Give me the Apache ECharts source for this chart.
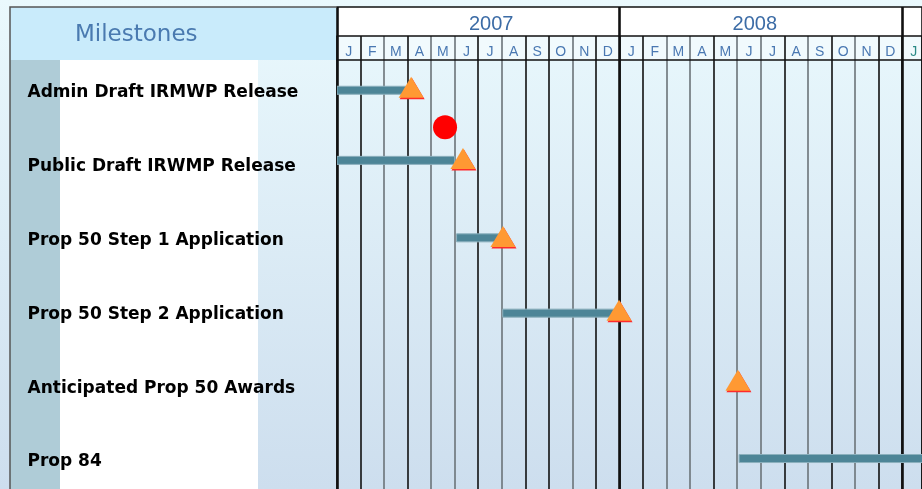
<!DOCTYPE html>
<html>
<head>
<meta charset="utf-8">
<script src="https://cdn.jsdelivr.net/npm/echarts@6/dist/echarts.min.js"></script>
<style>html,body{margin:0;padding:0;background:#e8f7fb;}#c{width:922px;height:489px;}</style>
</head>
<body>
<div id="c"></div>
<script>
// ---- data ----
const months = ['J','F','M','A','M','J','J','A','S','O','N','D','J','F','M','A','M','J','J','A','S','O','N','D','J'];
const years = ['2007','2008'];
const yearLabelPos = [6.55, 17.75];
const milestoneNames = ['Admin Draft IRMWP Release','Public Draft IRWMP Release','Prop 50 Step 1 Application','Prop 50 Step 2 Application','Anticipated Prop 50 Awards','Prop 84'];
const labelRows = [0, 1, 2, 3, 4, 5];
// bars: month index from Jan 2007 (0)
const barStart = [0, 0, 5.08, 7.04, 17.08];
const barEnd   = [2.95, 5.0, 6.95, 11.8, 25.5];
const barRow   = [-0.01, 0.94, 1.99, 3.01, 4.98];
// triangle milestones
const triMonth = [3.15, 5.35, 7.05, 11.98, 17.03];
const triRow   = [-0.05, 0.915, 1.97, 2.97, 3.92];
// red dot
const dotMonth = [4.59];
const dotRow   = [0.49];

const X_MIN = 0, X_MAX = 24.85, Y_MIN = -0.42, Y_MAX = 5.393;
const BLK = '#111', GRY = '#6b7378';
const splitColors = [BLK,BLK,GRY,BLK,GRY,GRY,BLK,GRY,BLK,BLK,GRY,BLK,BLK,BLK,GRY,GRY,BLK,GRY,GRY,BLK,GRY,BLK,GRY,BLK,BLK,BLK];

const chart = echarts.init(document.getElementById('c'), null, {renderer:'canvas'});

function monthAxis(grid) {
  return {type:'value', gridIndex:grid, min:X_MIN, max:X_MAX, interval:1, position:'top',
    axisLine:{show:true, onZero:false, lineStyle:{color:'#111', width:1.5}}, axisTick:{show:false}, axisLabel:{show:false},
    splitLine:{show:true, lineStyle:{color:splitColors, width:1.6}}};
}
function yearAxis(grid, pos, line) {
  return {type:'value', gridIndex:grid, min:X_MIN, max:X_MAX, interval:12, position:pos,
    axisLine:{show:line, onZero:false, lineStyle:{color:'#111', width:1.5}}, axisTick:{show:false}, axisLabel:{show:false},
    splitLine:{show:true, lineStyle:{color:'#111', width:2.6}}};
}
const hiddenItem = {color:'rgba(0,0,0,0)', opacity:1};

const option = {
  animation:false,
  backgroundColor:'transparent',
  graphic:[
    {type:'rect', z:-100, shape:{x:0,y:0,width:922,height:489},
     style:{fill:new echarts.graphic.LinearGradient(0,0,0,1,[{offset:0,color:'#eaf9fd'},{offset:1,color:'#cddeee'}])}},
    {type:'rect', z:-90, shape:{x:10,y:7,width:327,height:53}, style:{fill:'#c9ebfb'}},
    {type:'rect', z:-90, shape:{x:10,y:60,width:50,height:429}, style:{fill:'#afccd7'}},
    {type:'rect', z:-90, shape:{x:60,y:60,width:198,height:429}, style:{fill:'#ffffff'}},
    {type:'polyline', z:5, shape:{points:[[10,489],[10,7],[337,7]]}, style:{stroke:'#555', lineWidth:1.5, fill:null}}
  ],
  title:{text:'Milestones', left:75, top:24, padding:0,
    textStyle:{fontFamily:'DejaVu Sans', fontSize:23, fontWeight:'normal', color:'#4a7ab0'}},
  grid:[
    {left:337, top:60, width:585, height:429, show:false},
    {left:337, top:36, width:585, height:24, show:true, backgroundColor:'#f1fafd', borderWidth:0},
    {left:337, top:7, width:585, height:29, show:true, backgroundColor:'#ffffff', borderWidth:0},
    {left:10, top:60, width:327, height:429, show:false}
  ],
  xAxis:[
    monthAxis(0), yearAxis(0,'bottom',false),
    monthAxis(1), yearAxis(1,'bottom',false),
    yearAxis(2,'top',true),
    {type:'value', gridIndex:3, min:0, max:1, show:false}
  ],
  yAxis:[
    {type:'value', gridIndex:0, inverse:true, min:Y_MIN, max:Y_MAX, show:false},
    {type:'value', gridIndex:1, min:0, max:1, show:false},
    {type:'value', gridIndex:2, min:0, max:1, show:false},
    {type:'value', gridIndex:3, inverse:true, min:Y_MIN, max:Y_MAX, show:false}
  ],
  series:[
    {type:'custom', xAxisIndex:0, yAxisIndex:0, clip:true, z:3,
     data: barStart.map((s,i)=>[s, barEnd[i], barRow[i]]),
     renderItem:function(params, api){
       const a = api.coord([api.value(0), api.value(2)]);
       const b = api.coord([api.value(1), api.value(2)]);
       return {type:'rect', shape:{x:a[0], y:a[1]-4, width:b[0]-a[0], height:8},
         style:{fill:'#4d8597', stroke:'#8cb0bd', lineWidth:1}};
     }},
    {type:'scatter', xAxisIndex:0, yAxisIndex:0, z:4, symbol:'triangle', symbolSize:[25,21],
     data: triMonth.map((m,i)=>[m, triRow[i]]),
     itemStyle:{color:'#ff9933', shadowColor:'#ff2a2a', shadowOffsetX:1, shadowOffsetY:1.5, shadowBlur:0, opacity:1}},
    {type:'scatter', xAxisIndex:0, yAxisIndex:0, z:4, symbol:'circle', symbolSize:24,
     data: dotMonth.map((m,i)=>[m, dotRow[i]]), itemStyle:{color:'#ff0000', opacity:1}},
    {type:'scatter', xAxisIndex:2, yAxisIndex:1, z:4, symbolSize:1, itemStyle:hiddenItem,
     data: months.map((m,i)=>({value:[i+0.5, 0.5], label:{color: i===24 ? '#2a8a86' : '#4a78b2'}})),
     label:{show:true, position:'inside', offset:[0,4], formatter:p=>months[p.dataIndex],
       fontFamily:'Liberation Sans', fontSize:14}},
    {type:'scatter', xAxisIndex:4, yAxisIndex:2, z:4, symbolSize:1, itemStyle:hiddenItem,
     data: years.map((y,i)=>[yearLabelPos[i], 0.5]),
     label:{show:true, position:'inside', offset:[0,2.5], formatter:p=>years[p.dataIndex],
       fontFamily:'Liberation Sans', fontSize:20, color:'#3c6ca6'}},
    {type:'scatter', xAxisIndex:5, yAxisIndex:3, z:4, symbolSize:1, itemStyle:hiddenItem,
     data: labelRows.map(r=>[0, r]),
     label:{show:true, position:'right', distance:17, offset:[0,2], formatter:p=>milestoneNames[p.dataIndex],
       fontFamily:'DejaVu Sans', fontSize:17, fontWeight:'bold', color:'#000'}}
  ]
};
chart.setOption(option);
</script>
</body>
</html>
